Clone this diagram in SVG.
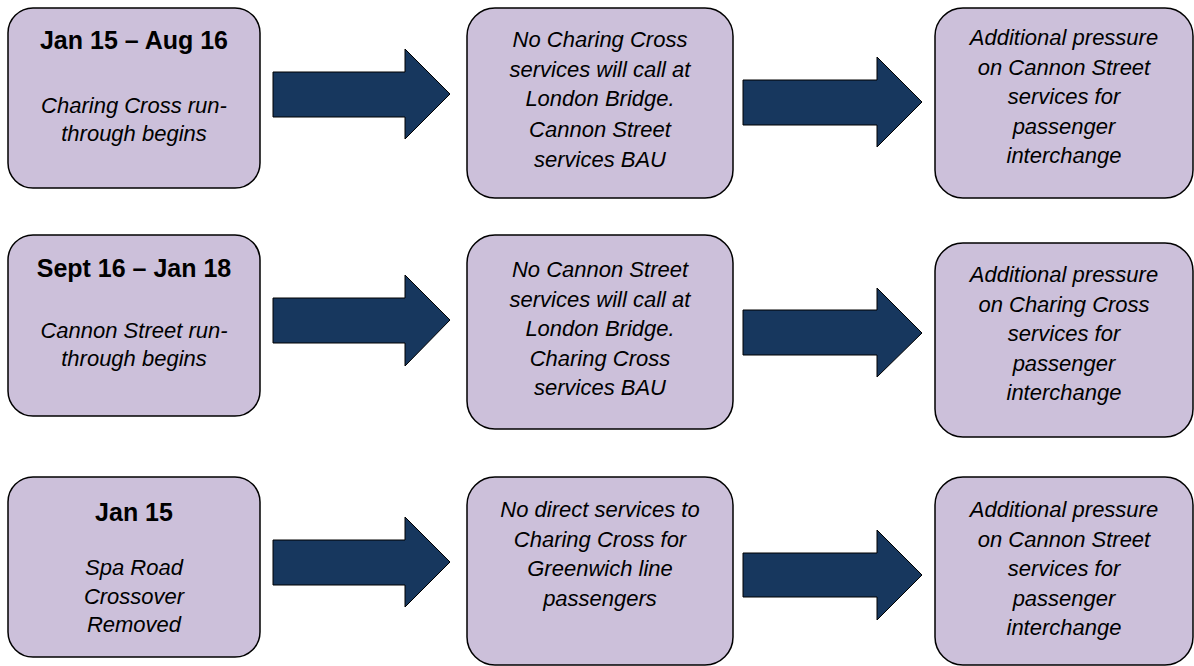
<svg xmlns="http://www.w3.org/2000/svg" width="1194" height="666" viewBox="0 0 1194 666">
<style>
.box{fill:#CCC0DA;stroke:#000;stroke-width:1.5}
.arr{fill:#17375E;stroke:#000;stroke-width:1}
.t{font-family:"Liberation Sans",Arial,sans-serif;font-size:22px;fill:#000;text-anchor:middle}
.h{font-weight:bold;font-size:25px}
.i{font-style:italic}
</style>
<rect width="1194" height="666" fill="#fff"/>
<g id="connectors">
<polygon class="arr" points="273,72 405,72 405,49 450,94 405,139 405,117 273,117"/>
<polygon class="arr" points="743,80 877,80 877,57 922,102 877,147 877,125 743,125"/>
<polygon class="arr" points="273,298 405,298 405,275 450,320 405,366 405,343 273,343"/>
<polygon class="arr" points="743,310 877,310 877,288 922,333 877,377 877,355 743,355"/>
<polygon class="arr" points="273,540 405,540 405,517 450,562 405,607 405,585 273,585"/>
<polygon class="arr" points="743,553 877,553 877,530 922,575 877,620 877,597 743,597"/>
</g>
<g id="a1">
<rect class="box" x="8" y="8" width="252" height="180" rx="25"/>
<text class="t h" x="134" y="49">Jan 15 – Aug 16</text>
<text class="t i" x="134" y="113">Charing Cross run-</text>
<text class="t i" x="134" y="141">through begins</text>
</g>
<g id="b1">
<rect class="box" x="467" y="8" width="266" height="190" rx="28"/>
<text class="t i" x="600" y="47">No Charing Cross</text>
<text class="t i" x="600" y="77">services will call at</text>
<text class="t i" x="600" y="106">London Bridge.</text>
<text class="t i" x="600" y="137">Cannon Street</text>
<text class="t i" x="600" y="167">services BAU</text>
</g>
<g id="c1">
<rect class="box" x="935" y="8" width="258" height="190" rx="28"/>
<text class="t i" x="1064" y="45">Additional pressure</text>
<text class="t i" x="1064" y="75">on Cannon Street</text>
<text class="t i" x="1064" y="104">services for</text>
<text class="t i" x="1064" y="134">passenger</text>
<text class="t i" x="1064" y="163">interchange</text>
</g>
<g id="a2">
<rect class="box" x="8" y="235" width="252" height="181" rx="25"/>
<text class="t h" x="134" y="277">Sept 16 – Jan 18</text>
<text class="t i" x="134" y="338">Cannon Street run-</text>
<text class="t i" x="134" y="366">through begins</text>
</g>
<g id="b2">
<rect class="box" x="467" y="235" width="266" height="194" rx="28"/>
<text class="t i" x="600" y="277">No Cannon Street</text>
<text class="t i" x="600" y="307">services will call at</text>
<text class="t i" x="600" y="336">London Bridge.</text>
<text class="t i" x="600" y="366">Charing Cross</text>
<text class="t i" x="600" y="395">services BAU</text>
</g>
<g id="c2">
<rect class="box" x="935" y="243" width="258" height="194" rx="28"/>
<text class="t i" x="1064" y="282">Additional pressure</text>
<text class="t i" x="1064" y="312">on Charing Cross</text>
<text class="t i" x="1064" y="341">services for</text>
<text class="t i" x="1064" y="371">passenger</text>
<text class="t i" x="1064" y="400">interchange</text>
</g>
<g id="a3">
<rect class="box" x="8" y="477" width="252" height="180" rx="25"/>
<text class="t h" x="134" y="521">Jan 15</text>
<text class="t i" x="134" y="575">Spa Road</text>
<text class="t i" x="134" y="604">Crossover</text>
<text class="t i" x="134" y="632">Removed</text>
</g>
<g id="b3">
<rect class="box" x="467" y="477" width="266" height="188" rx="28"/>
<text class="t i" x="600" y="517">No direct services to</text>
<text class="t i" x="600" y="547">Charing Cross for</text>
<text class="t i" x="600" y="576">Greenwich line</text>
<text class="t i" x="600" y="606">passengers</text>
</g>
<g id="c3">
<rect class="box" x="935" y="477" width="258" height="188" rx="28"/>
<text class="t i" x="1064" y="517">Additional pressure</text>
<text class="t i" x="1064" y="547">on Cannon Street</text>
<text class="t i" x="1064" y="576">services for</text>
<text class="t i" x="1064" y="606">passenger</text>
<text class="t i" x="1064" y="635">interchange</text>
</g>
</svg>
